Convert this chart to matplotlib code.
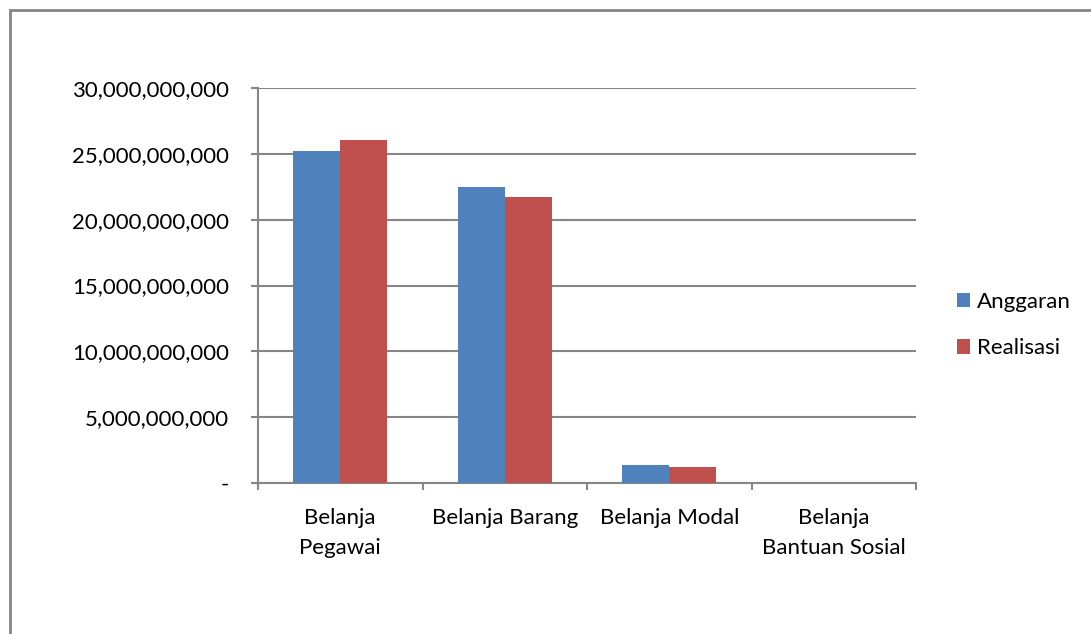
import matplotlib.pyplot as plt
from matplotlib.patches import Rectangle
from matplotlib.ticker import FuncFormatter
import numpy as np

plt.rcParams['font.family'] = ['Lato', 'DejaVu Sans']

categories = ["Belanja\nPegawai", "Belanja Barang", "Belanja Modal", "Belanja\nBantuan Sosial"]
anggaran = [25.24e9, 22.48e9, 1.34e9, 0]
realisasi = [26.08e9, 21.72e9, 1.21e9, 0]
series_names = ["Anggaran", "Realisasi"]
colors = ["#4F81BD", "#C0504D"]

W, H = 1091, 634
fig = plt.figure(figsize=(W / 100, H / 100), dpi=100)
ax = fig.add_axes([258 / W, 1 - 483 / H, (916 - 258) / W, (483 - 88) / H])

# chart border (clipped at right and bottom, like the screenshot)
fig.patches.append(Rectangle((9.5 / W, -0.1), 1.2, 1 - 9.5 / H + 0.1, transform=fig.transFigure,
                             fill=False, edgecolor="#868686", linewidth=2))

x = np.arange(len(categories))
bw = 0.286
ax.bar(x - bw / 2, anggaran, bw, color=colors[0], label=series_names[0], zorder=3)
ax.bar(x + bw / 2, realisasi, bw, color=colors[1], label=series_names[1], zorder=3)

ax.set_xlim(-0.5, len(categories) - 0.5)
ax.set_ylim(0, 30e9)
ax.set_yticks(np.arange(0, 30e9 + 1, 5e9))
ax.yaxis.set_major_formatter(FuncFormatter(lambda v, p: "-" if v == 0 else f"{v:,.0f}"))
ax.grid(axis="y", color="#868686", linewidth=1.5, zorder=0)

for s in ["top", "right"]:
    ax.spines[s].set_visible(False)
for s in ["left", "bottom"]:
    ax.spines[s].set_color("#868686")
    ax.spines[s].set_linewidth(1.5)

ax.set_xticks(x)
ax.set_xticklabels(categories, fontsize=16, linespacing=1.65)
ax.tick_params(axis="x", length=0, pad=18)
ax.set_xticks(np.arange(-0.5, len(categories), 1), minor=True)
ax.tick_params(axis="x", which="minor", length=5, width=1.5, color="#868686", direction="out")
ax.tick_params(axis="y", length=5, width=1.5, color="#868686", labelsize=16, pad=16)

leg = ax.legend(loc="center left", bbox_to_anchor=(957 / W, 1 - 325 / H),
                bbox_transform=fig.transFigure, frameon=False, fontsize=16,
                borderaxespad=0, borderpad=0,
                handlelength=0.6, handleheight=0.6, handletextpad=0.3, labelspacing=1.2)

fig.savefig("out.png", dpi=100)
